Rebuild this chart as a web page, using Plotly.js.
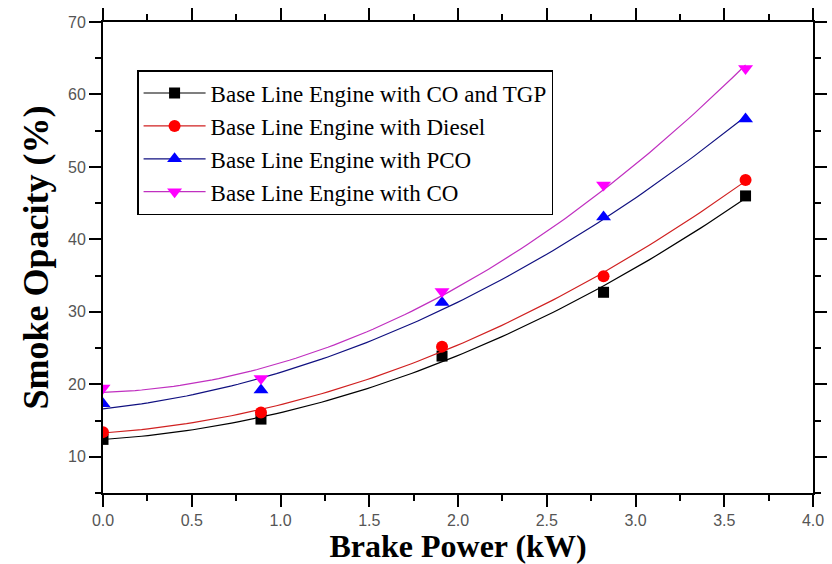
<!DOCTYPE html>
<html>
<head>
<meta charset="utf-8">
<script src="https://cdn.plot.ly/plotly-3.0.1.min.js"></script>
<style>html,body{margin:0;padding:0;background:#fff;}#chart{width:832px;height:564px;}</style>
</head>
<body>
<div id="chart"></div>
<script>
// Brake power (kW)
var brakePower = [0, 0.89, 1.91, 2.82, 3.62];
// Smoke opacity (%)
var coTgp  = [12.4, 15.2, 23.9, 32.7, 46.0];
var diesel = [13.4, 16.1, 25.2, 34.9, 48.2];
var pco    = [17.3, 19.2, 31.3, 43.1, 56.6];
var co     = [19.5, 20.8, 32.8, 47.5, 63.6];

var seriesNames = [
  'Base Line Engine with CO and TGP',
  'Base Line Engine with Diesel',
  'Base Line Engine with PCO',
  'Base Line Engine with CO'
];
var seriesValues = [coTgp, diesel, pco, co];
var markerColors = ['#000000', '#ff0000', '#0000ff', '#ff00ff'];
var lineColors = ['#000000', '#d02020', '#101080', '#c030c0'];
var symbols = ['square', 'circle', 'triangle-up', 'triangle-down'];
var sizes = [11, 12, 13, 13];

// quadratic least-squares fit of each series (as in the original's fitted curves)
function quadFit(xs, ys) {
  var n = xs.length, s = [0,0,0,0,0], t = [0,0,0];
  for (var i = 0; i < n; i++) {
    var x = xs[i], y = ys[i];
    for (var k = 0; k < 5; k++) s[k] += Math.pow(x, k);
    for (var k2 = 0; k2 < 3; k2++) t[k2] += Math.pow(x, k2) * y;
  }
  var A = [[s[0], s[1], s[2], t[0]], [s[1], s[2], s[3], t[1]], [s[2], s[3], s[4], t[2]]];
  for (var c = 0; c < 3; c++) {
    for (var r = c + 1; r < 3; r++) {
      var f = A[r][c] / A[c][c];
      for (var j = c; j < 4; j++) A[r][j] -= f * A[c][j];
    }
  }
  var b = [0,0,0];
  for (var r2 = 2; r2 >= 0; r2--) {
    var v = A[r2][3];
    for (var j2 = r2 + 1; j2 < 3; j2++) v -= A[r2][j2] * b[j2];
    b[r2] = v / A[r2][r2];
  }
  return b;
}

var traces = [];
var xmin = brakePower[0], xmax = brakePower[brakePower.length - 1];
seriesValues.forEach(function (vals, i) {
  var b = quadFit(brakePower, vals);
  var fx = [], fy = [];
  for (var k = 0; k <= 100; k++) {
    var x = xmin + (xmax - xmin) * k / 100;
    fx.push(x); fy.push(b[0] + b[1] * x + b[2] * x * x);
  }
  traces.push({x: fx, y: fy, mode: 'lines', type: 'scatter', showlegend: false,
    line: {color: lineColors[i], width: 1.2}, hoverinfo: 'skip'});
  traces.push({x: brakePower, y: vals, mode: 'markers', type: 'scatter', showlegend: false,
    marker: {symbol: symbols[i], color: markerColors[i], size: sizes[i]}, name: seriesNames[i]});
});
// legend entries (line + symbol)
seriesValues.forEach(function (vals, i) {
  traces.push({x: [null], y: [null], mode: 'lines+markers', type: 'scatter', name: seriesNames[i],
    line: {color: lineColors[i], width: 1.2},
    marker: {symbol: symbols[i], color: markerColors[i], size: sizes[i]}});
});

var tickFont = {family: 'Liberation Sans, Arial, sans-serif', size: 16, color: '#555'};
var titleFont = {family: 'Liberation Serif, Times New Roman, serif', size: 32, color: '#000', weight: 'bold'};

var layout = {
  width: 832, height: 564,
  margin: {l: 103, r: 19, t: 22, b: 71},
  paper_bgcolor: '#fff', plot_bgcolor: '#fff',
  showlegend: true,
  legend: {x: 0.048, y: 0.898, xanchor: 'left', yanchor: 'top',
    bordercolor: '#000', borderwidth: 1.5, bgcolor: '#fff',
    font: {family: 'Liberation Serif, Times New Roman, serif', size: 23, color: '#000'},
    itemwidth: 62, tracegroupgap: 0},
  xaxis: {range: [0, 4], dtick: 0.5, tick0: 0, tickformat: '.1f',
    ticks: 'outside', ticklen: 12, tickwidth: 2, tickcolor: '#000',
    showline: true, linewidth: 2, linecolor: '#000', mirror: 'ticks',
    showgrid: false, zeroline: false, tickfont: tickFont,
    minor: {dtick: 0.25, ticks: 'outside', ticklen: 6, tickwidth: 2, tickcolor: '#000', showgrid: false},
    title: {text: 'Brake Power (kW)', font: titleFont, standoff: 6}},
  yaxis: {range: [5, 70], dtick: 10, tick0: 0,
    ticks: 'outside', ticklen: 12, tickwidth: 2, tickcolor: '#000',
    showline: true, linewidth: 2, linecolor: '#000', mirror: 'ticks',
    showgrid: false, zeroline: false, tickfont: tickFont,
    minor: {dtick: 5, ticks: 'outside', ticklen: 6, tickwidth: 2, tickcolor: '#000', showgrid: false},
    title: {text: 'Smoke Opacity (%)', font: Object.assign({}, titleFont, {size: 36}), standoff: 8}}
};

Plotly.newPlot('chart', traces, layout, {displayModeBar: false, staticPlot: true});
</script>
</body>
</html>
